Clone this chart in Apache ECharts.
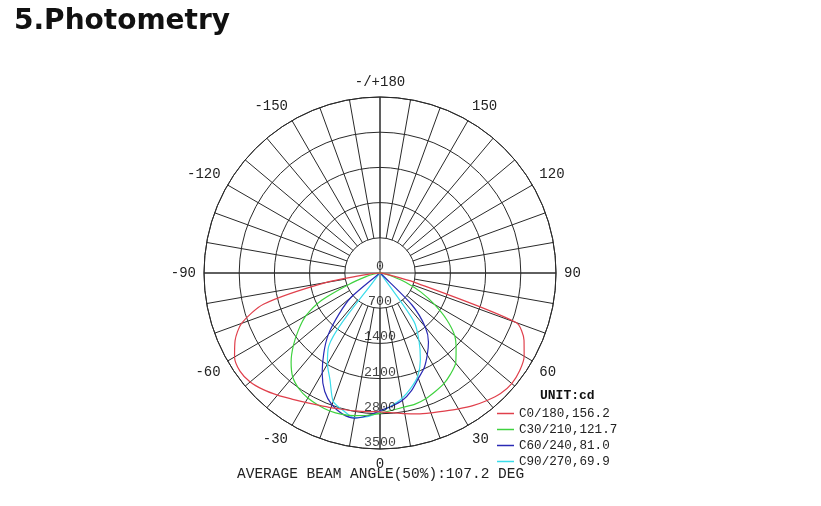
<!DOCTYPE html>
<html>
<head>
<meta charset="utf-8">
<script src="https://cdn.jsdelivr.net/npm/echarts@6/dist/echarts.min.js"></script>
<style>
html,body{margin:0;padding:0;background:#fff;}
#chart{width:821px;height:506px;}
</style>
</head>
<body>
<div id="chart"></div>
<script>
// ---- Data (gamma angle in degrees, negative = left half; intensities in cd) ----
const gammaAngles = [-90,-85,-80,-75,-70,-65,-60,-55,-50,-45,-40,-35,-30,-25,-20,-15,-10,-5,0,
                     5,10,15,20,25,30,35,40,45,50,55,60,65,70,75,80,85,90];
const c0_180 = [0,200,1100,2400,2930,3180,3340,3400,3370,3280,3170,3060,2970,2900,2850,2810,2785,2768,2760,
                2790,2840,2900,2960,3030,3120,3220,3310,3390,3420,3390,3310,3160,2880,700,120,30,0];
const c30_210 = [0,40,120,300,650,1280,1700,1980,2250,2500,2700,2810,2870,2900,2920,2910,2880,2840,2790,
                 2740,2710,2700,2660,2600,2540,2450,2340,2140,1940,1620,1250,900,550,250,100,30,0];
const c60_240 = [0,0,0,0,0,0,0,50,750,1150,1600,1950,2300,2600,2790,2900,2930,2850,2740,
                 2660,2570,2420,2230,2080,1880,1680,1400,900,40,0,0,0,0,0,0,0,0];
const c90_270 = [0,0,0,0,0,0,0,0,0,0,80,1780,2090,2350,2720,2830,2920,2870,2760,
                 2650,2530,2370,2190,1900,1550,1180,50,0,0,0,0,0,0,0,0,0,0];
const seriesNames = ['C0/180,156.2','C30/210,121.7','C60/240,81.0','C90/270,69.9'];
const seriesColors = ['#e0404c','#3fd23f','#2a2ab4','#3adcea'];
const radiusTicks = [0,700,1400,2100,2800,3500];
const angleLabelValues = [-180,-150,-120,-90,-60,-30,0,30,60,90,120,150];
const angleLabelTexts = ['-/+180','-150','-120','-90','-60','-30','0','30','60','90','120','150'];

const mono = '"Liberation Mono", "DejaVu Sans Mono", monospace';
const gridColor = '#2a2a2a';
const center = [380, 273];
const R = 176;

const curves = [c0_180, c30_210, c60_240, c90_270];
const lineSeries = curves.map((vals, k) => ({
  name: seriesNames[k],
  type: 'line',
  coordinateSystem: 'polar',
  polarIndex: 0,
  showSymbol: false,
  smooth: 0.25,
  z: 5 - k,
  lineStyle: { color: seriesColors[k], width: 1.2 },
  itemStyle: { color: seriesColors[k] },
  data: gammaAngles.map((a, i) => [vals[i], a])
}));

const option = {
  animation: false,
  backgroundColor: '#fff',
  title: [
    { text: '5.Photometry', left: 14, top: 8, padding: 0,
      textStyle: { fontFamily: '"DejaVu Sans", "Liberation Sans", sans-serif', fontWeight: 'bold', fontSize: 28, color: '#111' } },
    { text: 'UNIT:cd', left: 540, top: 389, padding: 0,
      textStyle: { fontFamily: mono, fontWeight: 'bold', fontSize: 13, color: '#111' } },
    { text: 'AVERAGE BEAM ANGLE(50%):107.2 DEG', left: 237, top: 467, padding: 0,
      textStyle: { fontFamily: mono, fontWeight: 'normal', fontSize: 14.5, color: '#222' } }
  ],
  legend: {
    data: seriesNames,
    orient: 'vertical',
    left: 497, top: 406.5,
    padding: 0,
    itemWidth: 17, itemHeight: 1.5,
    itemGap: 2,
    itemTextGap: 5,
    icon: 'rect',
    textStyle: { fontFamily: mono, fontSize: 12.6, color: '#222', lineHeight: 14 }
  },
  polar: [
    { center: center, radius: [0, R] },
    { center: center, radius: [35, R] }
  ],
  angleAxis: [
    { polarIndex: 0, type: 'value', min: -180, max: 180, interval: 90, startAngle: 90, clockwise: false,
      axisLine: { show: true, lineStyle: { color: gridColor, width: 1 } },
      axisTick: { show: false }, axisLabel: { show: false },
      splitLine: { show: true, lineStyle: { color: gridColor, width: 1 } } },
    { polarIndex: 1, type: 'value', min: -180, max: 180, interval: 10, startAngle: 90, clockwise: false,
      axisLine: { show: false }, axisTick: { show: false },
      axisLabel: { show: true, margin: 8, fontFamily: mono, fontSize: 14, color: '#222',
        formatter: v => { const i = angleLabelValues.indexOf(Math.round(v)); return i >= 0 ? angleLabelTexts[i] : ''; } },
      splitLine: { show: true, lineStyle: { color: gridColor, width: 1 } } }
  ],
  radiusAxis: [
    { polarIndex: 0, type: 'value', min: 0, max: 3500, interval: 700,
      axisLine: { show: false }, axisTick: { show: false }, axisLabel: { show: false },
      splitLine: { show: true, lineStyle: { color: gridColor, width: 1 } } },
    { polarIndex: 1, type: 'value', min: 0, max: 1, show: false,
      axisLine: { show: false }, axisTick: { show: false }, axisLabel: { show: false }, splitLine: { show: false } }
  ],
  series: lineSeries.concat([{
    type: 'scatter',
    coordinateSystem: 'polar',
    polarIndex: 0,
    symbolSize: 0,
    silent: true,
    z: 10,
    label: { show: true, position: 'top', distance: 0, fontFamily: mono, fontSize: 13.3, color: '#111',
      formatter: p => String(p.value[0]) },
    data: radiusTicks.map(r => [r, 0])
  }])
};

const chart = echarts.init(document.getElementById('chart'), null, { renderer: 'canvas' });
chart.setOption(option);
</script>
</body>
</html>
